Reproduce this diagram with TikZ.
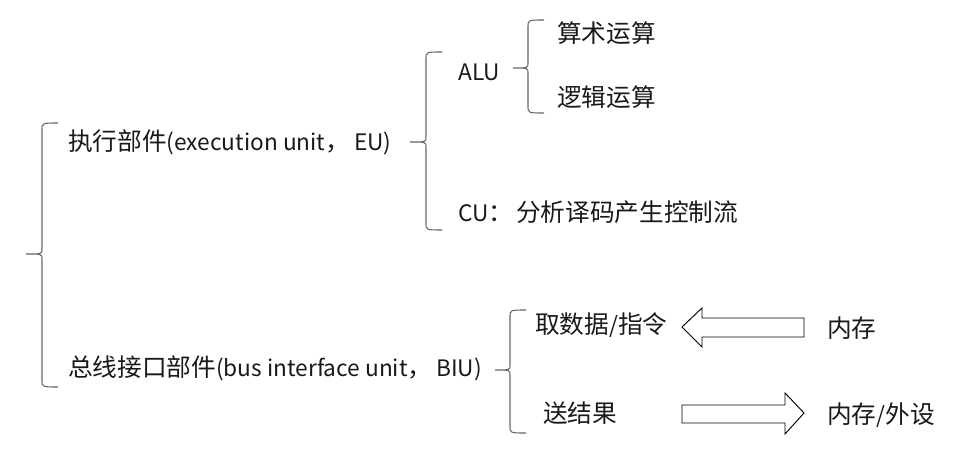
\documentclass[tikz,border=0pt]{standalone}
\usepackage{fontspec}
\setmainfont{Noto Sans CJK SC}
\newcommand{\lat}[1]{{\fontsize{17}{22}\selectfont #1}}
\begin{document}
\begin{tikzpicture}[x=0.75pt,y=-0.75pt,
  lbl/.style={anchor=west,inner sep=0pt,font=\fontsize{18.5}{22}\selectfont,text=black!90},
  brc/.style={draw=black!60,line width=0.8pt},
  blockarrow/.style={draw=black,line width=0.7pt,fill=white}]
\useasboundingbox (0,0) rectangle (959,453);
% braces
\newcommand{\mybrace}[5]{% x, top, tipx, tipy, bottom
  \draw[brc] (#1+16,#2) .. controls (#1,#2) .. (#1,#2+7) -- (#1,#4-5) .. controls (#1,#4) .. (#3,#4)
             .. controls (#1,#4) .. (#1,#4+5) -- (#1,#5-7) .. controls (#1,#5) .. (#1+16,#5);}
\mybrace{42}{123}{26}{254}{387}
\mybrace{426}{52}{410}{142}{230}
\mybrace{528}{20}{513}{68}{113}
\mybrace{510}{310}{495}{370}{433}
% labels
\node[lbl] (eu) at (68,142) {执行部件\lat{(execution unit}，\hspace{3pt}\lat{EU)}};
\node[lbl] (biu) at (68,368) {总线接口部件\lat{(bus interface unit}，\hspace{3pt}\lat{BIU)}};
\node[lbl] (alu) at (458,72) {\lat{ALU}};
\node[lbl] (ar) at (557,33) {算术运算};
\node[lbl] (lo) at (557,97) {逻辑运算};
\node[lbl] (cu) at (458,212) {\lat{CU}：\hspace{2pt}分析译码产生控制流};
\node[lbl] (fetch) at (535,325) {取数据\lat{/}指令};
\node[lbl] (mem) at (827,328) {内存};
\node[lbl] (send) at (543,413) {送结果};
\node[lbl] (memio) at (827,415) {内存\lat{/}外设};
% block arrows
\draw[blockarrow] (682,327) -- (702,308) -- (702,318) -- (804,318) -- (804,337) -- (702,337) -- (702,347) -- cycle;
\draw[blockarrow] (804,413) -- (785,393) -- (785,405) -- (682,405) -- (682,423) -- (785,423) -- (785,434) -- cycle;
\end{tikzpicture}
\end{document}
